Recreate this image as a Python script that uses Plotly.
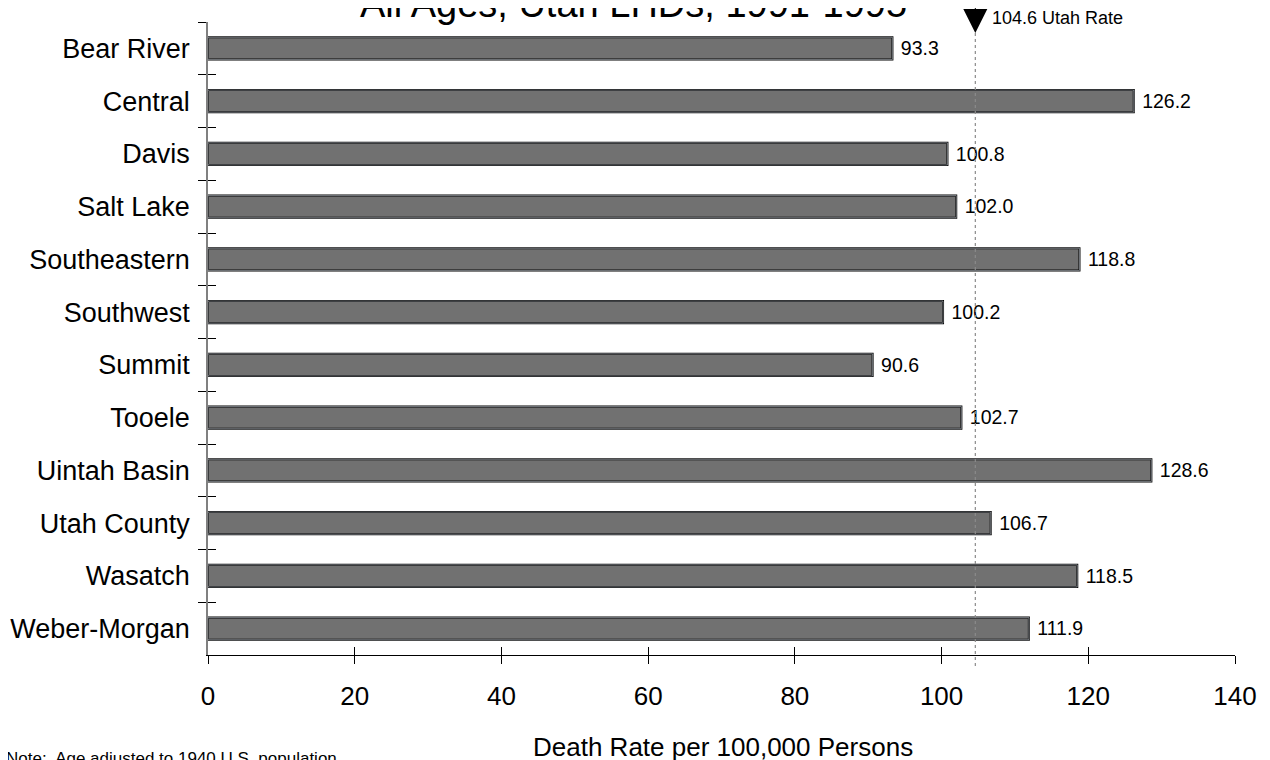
import plotly.graph_objects as go

regions = ["Bear River", "Central", "Davis", "Salt Lake", "Southeastern", "Southwest",
           "Summit", "Tooele", "Uintah Basin", "Utah County", "Wasatch", "Weber-Morgan"]
rates = [93.3, 126.2, 100.8, 102.0, 118.8, 100.2, 90.6, 102.7, 128.6, 106.7, 118.5, 111.9]
utah_rate = 104.6
x_ticks = [0, 20, 40, 60, 80, 100, 120, 140]

title_text = "All Ages, Utah LHDs, 1991-1995"
x_title = "Death Rate per 100,000 Persons"
note_text = "Note:  Age adjusted to 1940 U.S. population"

FONT = "Liberation Sans, Arial, sans-serif"
W, H = 1270, 760
OFF = 8  # page body margin shifts the figure by 8px
L, R, T, B = 208 - OFF, 35 + OFF, 22 - OFF, 105 + OFF
plot_h = H - T - B
plot_w = W - L - R


def py(pix):
    # target pixel row in the screenshot -> paper y
    return (H - B - (pix - OFF)) / plot_h


def px(pix):
    return (pix - OFF - L) / plot_w


fig = go.Figure()

fig.add_trace(go.Bar(
    x=rates, y=regions, orientation="h", width=0.42,
    marker=dict(color="#717171", line=dict(color="black", width=2)),
    text=[f" {v:.1f}" for v in rates], textposition="outside",
    textfont=dict(family=FONT, size=22, color="black"),
    cliponaxis=False, hoverinfo="x+y", showlegend=False,
))

# invisible copy to carry the inside half of the crossing ticks
fig.add_trace(go.Bar(
    x=rates, y=regions, orientation="h", width=0.42, xaxis="x2", yaxis="y2",
    marker=dict(color="rgba(0,0,0,0)"), hoverinfo="skip", showlegend=False,
))

# dotted reference line at the state rate, solid stub above the pointer
fig.add_shape(type="line", xref="x", yref="paper", x0=utah_rate, x1=utah_rate,
              y0=py(666), y1=py(32), line=dict(color="#8a8a8a", width=1.2, dash="dot"),
              layer="above")
fig.add_shape(type="line", xref="x", yref="paper", x0=utah_rate, x1=utah_rate,
              y0=py(20), y1=py(-2), line=dict(color="black", width=1), layer="above")

# triangle pointer + label for the state rate
fig.add_annotation(x=utah_rate, y=py(33), xref="x", yref="paper", text="",
                   showarrow=True, arrowhead=2, arrowsize=4.8, arrowwidth=1,
                   arrowcolor="black", ax=0, ay=-45, standoff=0)
fig.add_annotation(x=utah_rate, y=py(18), xref="x", yref="paper",
                   text=f"{utah_rate} Utah Rate", showarrow=False,
                   xanchor="left", yanchor="middle", xshift=15,
                   font=dict(family=FONT, size=18, color="black"))

axis_common = dict(range=[0, 140], tickvals=x_ticks, ticklen=8, tickcolor="black",
                   showgrid=False, zeroline=False, fixedrange=True, automargin=False)

fig.update_layout(
    width=W, height=H,
    margin=dict(l=L, r=R, t=T, b=B),
    paper_bgcolor="white", plot_bgcolor="white",
    font=dict(family=FONT, color="black"),
    xaxis=dict(**axis_common, ticks="outside", showline=True, linecolor="black", linewidth=1,
               tickfont=dict(family=FONT, size=26), ticklabelstandoff=10),
    xaxis2=dict(**axis_common, ticks="inside", overlaying="x", showticklabels=False,
                showline=False),
    yaxis=dict(type="category", categoryorder="array", categoryarray=regions,
               autorange="reversed", tickson="boundaries", ticks="outside", ticklen=8,
               tickcolor="black", showline=True, linecolor="#808080", linewidth=1.5,
               showgrid=False, tickfont=dict(family=FONT, size=27), ticklabelstandoff=11,
               automargin=False),
    yaxis2=dict(type="category", categoryorder="array", categoryarray=regions,
                autorange="reversed", tickson="boundaries", ticks="inside", ticklen=8,
                tickcolor="black", overlaying="y", showticklabels=False, showgrid=False,
                showline=False, automargin=False),
)

fig.add_annotation(text=title_text, xref="paper", yref="paper",
                   x=px(633), y=py(15), xanchor="center", yanchor="bottom",
                   showarrow=False, font=dict(family=FONT, size=38, color="black"),
                   yshift=-12)
fig.add_annotation(text=x_title, xref="paper", yref="paper", x=px(723), y=py(747),
                   xanchor="center", yanchor="middle", showarrow=False,
                   font=dict(family=FONT, size=26, color="black"))
fig.add_annotation(text=note_text, xref="paper", yref="paper", x=px(0),
                   y=py(750), xanchor="left", yanchor="top", yshift=3, xshift=4,
                   showarrow=False, font=dict(family=FONT, size=17, color="black"))

fig.write_html("out.html")
